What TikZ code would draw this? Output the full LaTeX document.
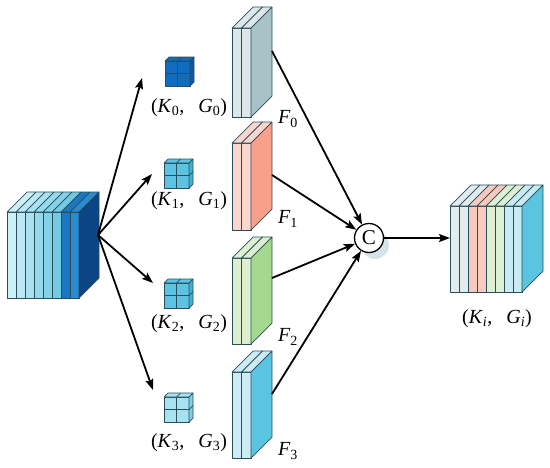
\documentclass[tikz,border=0pt]{standalone}
\usepackage{fontspec}
\setmainfont{Liberation Serif}
\usetikzlibrary{arrows.meta}

\definecolor{edgec}{HTML}{2A4D5C}
\definecolor{lc1}{HTML}{CDEFF7}
\definecolor{lc2}{HTML}{BCE8F4}
\definecolor{lc3}{HTML}{A9E1F0}
\definecolor{lc4}{HTML}{97D9EC}
\definecolor{lc5}{HTML}{85D1E8}
\definecolor{lc6}{HTML}{74CAE5}
\definecolor{lc7}{HTML}{1A78C2}
\definecolor{lc8}{HTML}{2A8BD0}
\definecolor{lside}{HTML}{0B4585}
\definecolor{fza}{HTML}{DCE7EA}
\definecolor{fzs}{HTML}{A8C2C8}
\definecolor{foa}{HTML}{FCD6CC}
\definecolor{fos}{HTML}{F7A08A}
\definecolor{fta}{HTML}{DCF0D0}
\definecolor{fts}{HTML}{A3D88E}
\definecolor{fha}{HTML}{CBECF5}
\definecolor{fhs}{HTML}{5AC5E0}
\definecolor{oa}{HTML}{E2EBEE}
\definecolor{ob}{HTML}{F9C9BD}
\definecolor{oc}{HTML}{DDF0D2}
\definecolor{od}{HTML}{C8EAF3}
\definecolor{os}{HTML}{5BC4DE}
\definecolor{kza}{HTML}{0F6CBF}
\definecolor{kzs}{HTML}{0B5AA3}
\definecolor{kma}{HTML}{5CC3E3}
\definecolor{kms}{HTML}{3FB1D6}
\definecolor{kla}{HTML}{A7E2F1}
\definecolor{kls}{HTML}{7FD0E8}
\definecolor{shadowc}{HTML}{D4E4EA}

\tikzset{
  sl/.style={draw=edgec, line width=0.7pt, line join=round},
  arr/.style={line width=1.8pt, -{Stealth[length=11pt,width=8pt,inset=2pt]}},
  lab/.style={font=\fontsize{20}{23}\selectfont, inner sep=0pt},
}

% #1 x, #2 y (top-left of front), #3 slice width, #4 height, #5 depth,
% #6 colour list, #7 side colour, #8 right x of front
\newcommand\slabs[8]{%
  \foreach \c [count=\i from 0] in {#6} {
    \pgfmathsetmacro\xx{#1+#3*\i}
    \filldraw[fill=\c,sl] (\xx,#2) rectangle ++(#3,#4);
    \filldraw[fill=\c,sl] (\xx,#2) -- ++(#5,-#5) -- ++(#3,0) -- ++(-#5,#5) -- cycle;
  }
  \filldraw[fill=#7,sl] (#8,#2) -- ++(#5,-#5) -- ++(0,#4) -- ++(-#5,#5) -- cycle;
}

% small 2x2 cube: #1 x, #2 y, #3 fill, #4 side
\newcommand\smallcube[4]{%
  \filldraw[fill=#3,sl] (#1,#2) rectangle ++(25,25);
  \draw[sl] (#1+12.5,#2) -- ++(0,25) (#1,#2+12.5) -- ++(25,0);
  \filldraw[fill=#3,sl] (#1,#2) -- ++(4,-4) -- ++(25,0) -- ++(-4,4) -- cycle;
  \draw[sl] (#1+12.5,#2) -- ++(4,-4);
  \filldraw[fill=#4,sl] (#1+25,#2) -- ++(4,-4) -- ++(0,25) -- ++(-4,4) -- cycle;
  \draw[sl] (#1+25,#2+12.5) -- ++(4,-4);
}

\begin{document}
\begin{tikzpicture}[x=1pt,y=-1pt]
\useasboundingbox (0,0) rectangle (550,467);

% input cube
\slabs{7}{212}{9}{86}{20}{lc1,lc2,lc3,lc4,lc5,lc6,lc7,lc8}{lside}{79}
\coordinate (src) at (98,235);

% small cubes
\smallcube{165}{61}{kza}{kzs}
\smallcube{164}{163}{kma}{kms}
\smallcube{164}{283}{kma}{kms}
\smallcube{164}{397}{kla}{kls}
\coordinate (k0) at (142,78);
\coordinate (k1) at (152,174);
\coordinate (k2) at (153,283);
\coordinate (k3) at (153,390);

\node[lab] (lk0) at (189,108) {(\textit{K}\textsubscript{0},\hspace{0.7em}\textit{G}\textsubscript{0})};
\node[lab] (lk1) at (189,201) {(\textit{K}\textsubscript{1},\hspace{0.7em}\textit{G}\textsubscript{1})};
\node[lab] (lk2) at (189,324) {(\textit{K}\textsubscript{2},\hspace{0.7em}\textit{G}\textsubscript{2})};
\node[lab] (lk3) at (189,443) {(\textit{K}\textsubscript{3},\hspace{0.7em}\textit{G}\textsubscript{3})};

% F blocks
\slabs{232}{28}{9.5}{89}{21}{fza,fza}{fzs}{251}
\slabs{232}{143}{9.5}{87}{21}{foa,foa}{fos}{251}
\slabs{232}{258}{9.5}{86}{21}{fta,fta}{fts}{251}
\slabs{232}{372}{9.5}{86}{21}{fha,fha}{fhs}{251}
\coordinate (f0) at (272,51);
\coordinate (f1) at (272,175);
\coordinate (f2) at (272,278);
\coordinate (f3) at (272,394);

\node[lab] (lf0) at (288,119) {\textit{F}\textsubscript{0}};
\node[lab] (lf1) at (288,219) {\textit{F}\textsubscript{1}};
\node[lab] (lf2) at (288,337) {\textit{F}\textsubscript{2}};
\node[lab] (lf3) at (288,451) {\textit{F}\textsubscript{3}};

% concat
\fill[shadowc] (375,245) circle (14);
\node[draw=black, line width=1.3pt, fill=white, circle, minimum size=29pt, inner sep=0pt,
      font=\fontsize{21}{24}\selectfont] (c) at (369,238) {C};

% output cube
\slabs{450}{206}{9}{86}{21}{oa,oa,ob,ob,oc,oc,od,od}{os}{522}
\coordinate (oin) at (450,238);
\node[lab] (lki) at (497,319) {(\textit{K}\textsubscript{\textit{i}},\hspace{0.7em}\textit{G}\textsubscript{\textit{i}})};

% arrows
\draw[arr] (src) -- (k0);
\draw[arr] (src) -- (k1);
\draw[arr] (src) -- (k2);
\draw[arr] (src) -- (k3);
\draw[arr] (f0) -- (c);
\draw[arr] (f1) -- (c);
\draw[arr] (f2) -- (c);
\draw[arr] (f3) -- (c);
\draw[arr] (c) -- (oin);
\end{tikzpicture}
\end{document}
